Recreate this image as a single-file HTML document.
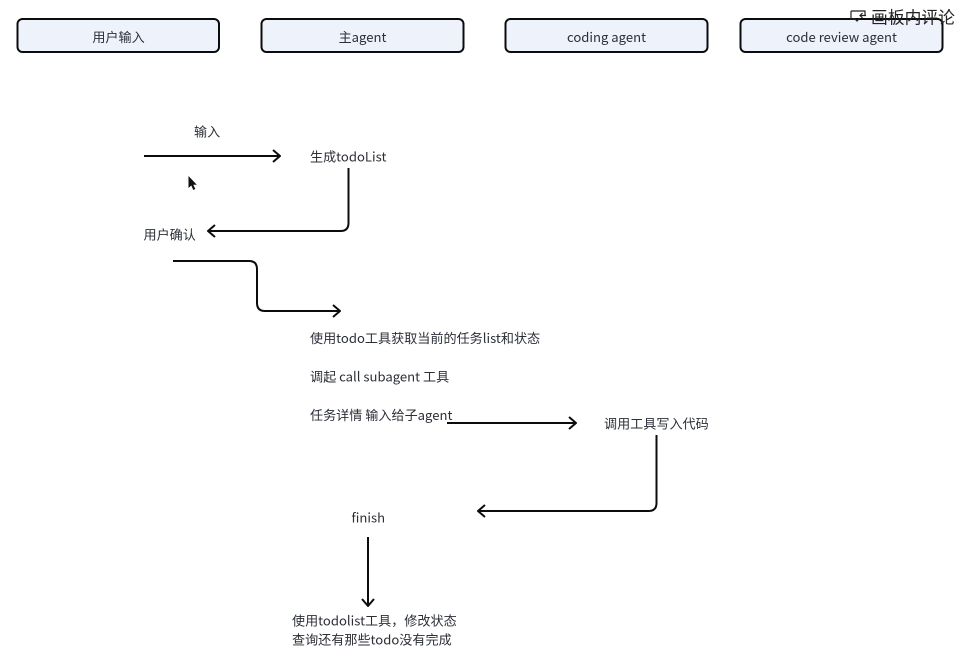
<!DOCTYPE html>
<html lang="zh">
<head>
<meta charset="utf-8">
<title>Agent flow</title>
<style>
html,body{margin:0;padding:0;background:#fff;width:956px;height:661px;overflow:hidden}
svg{display:block;filter:blur(.3px)}
text{font-family:"Noto Sans CJK SC","Liberation Sans",sans-serif;font-size:13.100px;fill:#2b2f36}
.box{fill:#eef2fb;stroke:#0c0c0c;stroke-width:2}
.l{fill:none;stroke:#0c0c0c;stroke-width:2;stroke-linejoin:round}
</style>
</head>
<body>
<svg width="956" height="661" viewBox="0 0 956 661" xmlns="http://www.w3.org/2000/svg">
<rect x="17.500" y="19" width="201.500" height="33" rx="5" class="box"/>
<rect x="261.500" y="19" width="202" height="33" rx="5" class="box"/>
<rect x="505.500" y="19" width="202" height="33" rx="5" class="box"/>
<rect x="740.500" y="19" width="202" height="33" rx="5" class="box"/>
<text x="118.500" y="42" text-anchor="middle">用户输入</text>
<text x="362.500" y="42" text-anchor="middle">主agent</text>
<text x="606.500" y="42" text-anchor="middle">coding agent</text>
<text x="841.500" y="42" text-anchor="middle">code review agent</text>

<path d="M851 11h14v4M851 11v8h4l2 2 2-2h1M866 15.500h-6M862.500 13l-2.500 2.500 2.500 2.500" fill="none" stroke="#222" stroke-width="1.200"/>
<text x="871" y="23.500" style="font-size:16.800px;fill:#222">画板内评论</text>

<text x="194" y="136.500">输入</text>
<path class="l" d="M144 156H280M273 150l7 6-7 6"/>
<path d="M188.500 176v12l2.800-2.500 2 4.500 2-1-2-4.200h3.500z" fill="#111"/>
<text x="310" y="161.700">生成todoList</text>
<path class="l" d="M348.500 168V223q0 8-8 8H208M215 225l-7 6 7 6"/>
<text x="143.500" y="239.500">用户确认</text>
<path class="l" d="M173 261H249q8 0 8 8V303q0 8 8 8H340M333 305l7 6-7 6"/>

<text x="310" y="343">使用todo工具获取当前的任务list和状态</text>
<text x="310" y="381.500">调起 call subagent 工具</text>
<text x="310" y="420">任务详情 输入给子agent</text>
<path class="l" d="M447 423H576M569 417l7 6-7 6"/>
<text x="604" y="428.500">调用工具写入代码</text>
<path class="l" d="M656.500 435V503q0 8-8 8H478M485 505l-7 6 7 6"/>
<text x="351.500" y="522.500">finish</text>
<path class="l" d="M368 537V606M362 599l6 7 6-7"/>
<text x="292" y="625.500">使用todolist工具，修改状态</text>
<text x="292" y="644.500">查询还有那些todo没有完成</text>
</svg>
</body>
</html>
